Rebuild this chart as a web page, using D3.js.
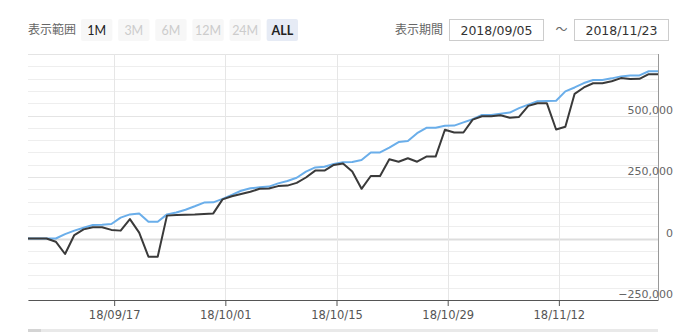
<!DOCTYPE html>
<html><head><meta charset="utf-8">
<script src="https://cdn.jsdelivr.net/npm/d3@7"></script>
<style>
html,body{margin:0;padding:0;background:#fff;}
svg{display:block;}
</style></head>
<body>
<svg id="chart" width="691" height="332"></svg>
<script>
// ---- data ----
const rangeButtons = ["1M","3M","6M","12M","24M","ALL"];
const rangeEnabled = [true,false,false,false,false,true];
const periodStart = "2018/09/05";
const periodEnd = "2018/11/23";
const tickLabels = ["18/09/17","18/10/01","18/10/15","18/10/29","18/11/12"];
const tickIndex = [9.3, 21.3, 33.3, 45.3, 57.3];
const yLabelValues = [-250000, 0, 250000, 500000];
const seriesDark = [0,0,0,-13000,-63000,14000,37000,46000,46000,35000,32000,79000,24000,-74000,-74000,
  93000,96000,97000,98000,100000,102000,159000,172000,181000,190000,202000,203000,213000,215000,226000,
  248000,276000,276000,299000,305000,272000,202000,254000,254000,322000,312000,326000,312000,333000,333000,
  442000,431000,431000,483000,497000,497000,501000,491000,494000,539000,550000,550000,443000,454000,588000,
  614000,631000,631000,639000,652000,648000,649000,668000,668000];
const seriesBlue = [0,0,0,0,18000,32000,44000,55000,56000,59000,85000,98000,102000,68000,68000,
  98000,106000,117000,131000,146000,147000,161000,177000,194000,204000,208000,211000,224000,234000,247000,
  272000,289000,292000,303000,310000,311000,319000,350000,350000,369000,392000,396000,428000,450000,450000,
  458000,459000,472000,485000,502000,502000,507000,512000,530000,544000,558000,559000,560000,598000,614000,
  632000,644000,644000,651000,659000,663000,663000,680000,680000];

// ---- drawing ----
const svg = d3.select("#chart");
const L = 28, R = 658, T = 54, B = 300;
const x = d3.scaleLinear().domain([0, seriesDark.length - 1]).range([L, R]);
const y = d3.scaleLinear().domain([-250000, 750000]).range([B, T]);
const cjk = "'Noto Sans CJK JP','Noto Sans',sans-serif";
const num = "'DejaVu Sans',sans-serif";

// header
svg.append("text").attr("x", 28).attr("y", 34).text("表示範囲")
  .attr("font-family", cjk).attr("font-size", 12).attr("fill", "#666");
const bx = d3.scaleBand().domain(rangeButtons).range([81, 298]).paddingInner(0.155);
const btn = svg.selectAll("g.btn").data(rangeButtons).join("g").attr("class","btn");
btn.append("rect").attr("x", d => bx(d)).attr("y", 19).attr("width", bx.bandwidth()).attr("height", 22)
  .attr("rx", 2).attr("fill", d => d === "ALL" ? "#e6ebf5" : "#f7f7f7");
btn.append("text").attr("x", d => bx(d) + bx.bandwidth()/2).attr("y", 34.5).attr("text-anchor","middle")
  .attr("font-family", "'Lato','Open Sans',sans-serif").attr("font-size", 12.5)
  .attr("font-weight", d => d === "ALL" ? "bold" : "normal")
  .attr("fill", (d,i) => rangeEnabled[i] ? "#222" : "#cccccc").text(d => d);

svg.append("text").attr("x", 395).attr("y", 34).text("表示期間")
  .attr("font-family", cjk).attr("font-size", 12).attr("fill", "#666");
[[449.5, periodStart],[574.5, periodEnd]].forEach(([bx0, t]) => {
  svg.append("rect").attr("x", bx0).attr("y", 19.5).attr("width", 94).attr("height", 21)
    .attr("fill","#fff").attr("stroke","#cccccc");
  svg.append("text").attr("x", bx0 + 47).attr("y", 34.5).attr("text-anchor","middle")
    .attr("font-family", num).attr("font-size", 12.5).attr("fill","#333").text(t);
});
svg.append("text").attr("x", 561.5).attr("y", 34).attr("text-anchor","middle")
  .attr("font-family", cjk).attr("font-size", 12).attr("fill","#666").text("～");

// horizontal grid
const gridVals = d3.range(-250000, 750001, 50000);
svg.append("g").selectAll("line").data(gridVals).join("line")
  .attr("x1", L).attr("x2", R)
  .attr("y1", d => Math.round(y(d)) + 0.5).attr("y2", d => Math.round(y(d)) + 0.5)
  .attr("stroke", d => d === 0 ? "#dddddd" : (d % 250000 === 0 ? "#e4e4e4" : "#eeeeee"))
  .attr("stroke-width", d => d === 0 ? 2 : 1);

// vertical grid
svg.append("g").selectAll("line").data(tickIndex).join("line")
  .attr("x1", d => Math.round(x(d)) + 0.5).attr("x2", d => Math.round(x(d)) + 0.5)
  .attr("y1", T).attr("y2", B).attr("stroke", "#e6e6e6");

// series
const line = d3.line().x((d,i) => x(i)).y(d => y(d));
svg.append("path").datum(seriesBlue).attr("d", line).attr("fill","none")
  .attr("stroke","#6aaeea").attr("stroke-width",2).attr("stroke-linejoin","round");
svg.append("path").datum(seriesDark).attr("d", line).attr("fill","none")
  .attr("stroke","#3a3a3a").attr("stroke-width",2).attr("stroke-linejoin","round");

// axes
const xAxis = d3.axisBottom(x).tickValues(tickIndex).tickFormat((d,i) => tickLabels[i])
  .tickSizeInner(6).tickSizeOuter(0).tickPadding(5);
const gx = svg.append("g").attr("transform", `translate(0,${B})`).call(xAxis);
gx.select(".domain").attr("stroke","#555");
gx.selectAll(".tick line").attr("stroke","#555");
gx.selectAll(".tick text").attr("font-family", num).attr("font-size", 11.5).attr("fill","#555");

svg.append("line").attr("x1", R + 0.5).attr("x2", R + 0.5).attr("y1", T).attr("y2", B)
  .attr("stroke","#999");
const fmt = d3.format(",");
svg.append("g").selectAll("text").data(yLabelValues).join("text")
  .attr("x", 673).attr("y", d => y(d) - 2).attr("text-anchor","end")
  .attr("font-family", num).attr("font-size", 11).attr("fill","#666")
  .text(d => fmt(d).replace("-", "\u2212"));

// navigator strip at bottom
svg.append("rect").attr("x", L).attr("y", 329).attr("width", R - L).attr("height", 3).attr("fill","#e9e9e9");
svg.append("rect").attr("x", L).attr("y", 329).attr("width", 13).attr("height", 3).attr("fill","#d4d4d4");
</script>
</body></html>
